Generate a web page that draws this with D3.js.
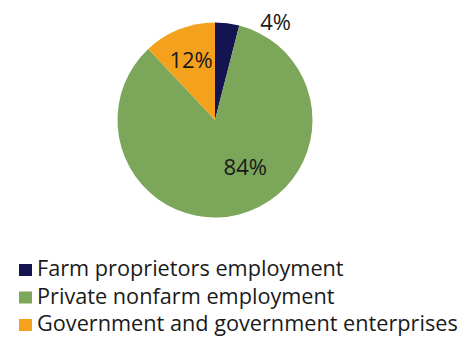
<!DOCTYPE html>
<html>
<head>
<meta charset="utf-8">
<script src="https://cdn.jsdelivr.net/npm/d3@7"></script>
<style>
  body { margin: 0; background: #fff; }
  text { font-family: "Open Sans", sans-serif; fill: #1a1a1a; }
</style>
</head>
<body>
<div id="chart"></div>
<script>
// datos
const categories = ["Farm proprietors employment", "Private nonfarm employment", "Government and government enterprises"];
const shares = [4, 84, 12];
const labels = ["4%", "84%", "12%"];
const colours = ["#141450", "#7ca65a", "#f4a11d"];

const width = 461;
const height = 339;
const cx = 215, cy = 120, radius = 97.5;

const svg = d3.select("#chart").append("svg")
    .attr("width", width)
    .attr("height", height);

const pieGroup = svg.append("g")
    .attr("transform", `translate(${cx}, ${cy})`);

const pie = d3.pie().sort(null).value(d => d);
const arcs = pie(shares);
const arc = d3.arc().innerRadius(0).outerRadius(radius);

pieGroup.selectAll("path").data(arcs)
    .enter().append("path")
    .attr("d", arc)
    .attr("fill", (d, i) => colours[i]);

// posicion de etiquetas (excel "best fit"): angulo extra y radio por porcion
const labelShift = [{da: 0.43, r: 115}, {da: -0.32, r: 56}, {da: 0, r: 65}];
pieGroup.selectAll("text.lbl").data(arcs)
    .enter().append("text")
    .attr("class", "lbl")
    .attr("x", (d, i) => Math.sin((d.startAngle + d.endAngle) / 2 + labelShift[i].da) * labelShift[i].r)
    .attr("y", (d, i) => -Math.cos((d.startAngle + d.endAngle) / 2 + labelShift[i].da) * labelShift[i].r)
    .attr("text-anchor", "middle")
    .attr("dy", "0.36em")
    .style("font-size", "22px")
    .text((d, i) => labels[i]);

// leyenda
const legend = svg.append("g").attr("transform", "translate(19, 276)");
const rows = legend.selectAll("g").data(categories)
    .enter().append("g")
    .attr("transform", (d, i) => `translate(0, ${i * 27.5})`);
rows.append("rect")
    .attr("x", 0).attr("y", -12)
    .attr("width", 13).attr("height", 12)
    .attr("fill", (d, i) => colours[i]);
rows.append("text")
    .attr("x", 18)
    .attr("y", 0)
    .style("font-size", "21.7px")
    .text(d => d);
</script>
</body>
</html>
